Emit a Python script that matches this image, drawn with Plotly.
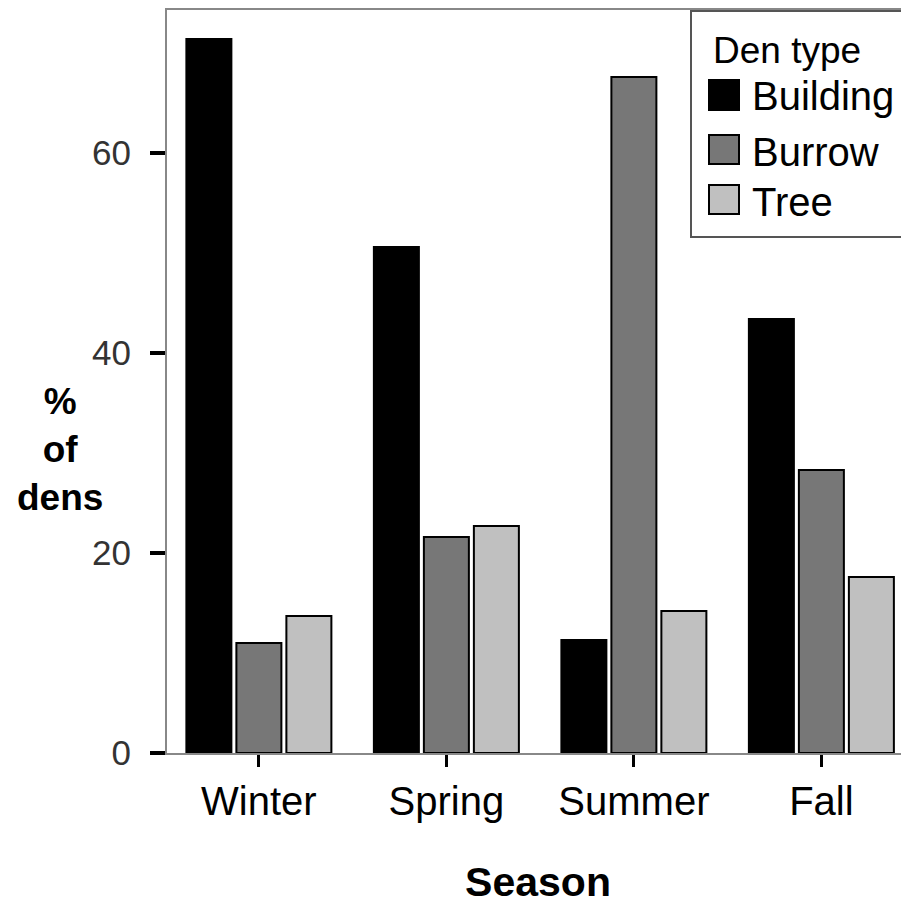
import plotly.graph_objects as go

seasons = ["Winter", "Spring", "Summer", "Fall"]
den_types = ["Building", "Burrow", "Tree"]
building = [71.4, 50.6, 11.3, 43.4]
burrow = [11.0, 21.6, 67.6, 28.3]
tree = [13.7, 22.7, 14.2, 17.6]
colors = ["#000000", "#777777", "#c0c0c0"]
y_ticks = [0, 20, 40, 60]

OFF = 8  # page body margin
W, H = 909 - OFF, 907 - OFF
L, R, T, B = 167 - OFF, 0, 10 - OFF, 907 - OFF - (753 - OFF)
PW, PH = W - L - R, H - T - B

def px(x):
    return (x - OFF - L) / PW

def py(y):
    return (H - B - (y - OFF)) / PH

x_end = -0.49 + PW / 187.5

fig = go.Figure()
for name, vals, col in zip(den_types, [building, burrow, tree], colors):
    fig.add_trace(go.Bar(x=seasons, y=vals, name=name, marker_color=col,
                         marker_line=dict(color="black", width=2), showlegend=False))

fig.update_layout(
    width=W, height=H, margin=dict(l=L, r=R, t=T, b=B),
    paper_bgcolor="white", plot_bgcolor="white",
    barmode="group", bargap=0.2, bargroupgap=0.1,
    font=dict(family="Liberation Sans, Arial, sans-serif", color="black"),
    xaxis=dict(range=[-0.49, x_end], showline=True, linecolor="#888888", linewidth=2,
               mirror=True, ticks="outside", ticklen=12, tickwidth=3, tickcolor="black",
               tickfont=dict(size=40, color="black"), showgrid=False,
               title=dict(text="<b>Season</b>", font=dict(size=41), standoff=45)),
    yaxis=dict(range=[0, 74.3], showline=True, linecolor="#888888", linewidth=2,
               ticks="outside", ticklen=15, tickwidth=4, tickcolor="black",
               tickvals=y_ticks, tickfont=dict(size=35, color="#333333"),
               showgrid=False, zeroline=False, ticklabelstandoff=12),
)

fig.add_annotation(xref="paper", yref="paper", x=px(60), y=py(450),
                   xanchor="center", yanchor="middle",
                   text="<b>%<br>of<br>dens</b>", showarrow=False, align="center",
                   font=dict(size=37, color="black"))

# legend box
fig.add_shape(type="rect", xref="paper", yref="paper", x0=px(691), x1=px(940),
              y0=py(237), y1=py(11), line=dict(color="#555555", width=2),
              fillcolor="white", layer="above")
fig.add_annotation(xref="paper", yref="paper", x=px(711), y=py(50),
                   xanchor="left", yanchor="middle",
                   text="Den type", showarrow=False, font=dict(size=37, color="black"))
sq = [(80, 110), (135, 164), (185, 214)]
txt_y = [96, 152, 202]
for (y0, y1), ty, name, col in zip(sq, txt_y, den_types, colors):
    fig.add_shape(type="rect", xref="paper", yref="paper", x0=px(709), x1=px(739),
                  y0=py(y1), y1=py(y0), fillcolor=col, line=dict(color="black", width=2),
                  layer="above")
    fig.add_annotation(xref="paper", yref="paper", x=px(750), y=py(ty),
                       xanchor="left", yanchor="middle", text=name, showarrow=False,
                       font=dict(size=40, color="black"))

fig.write_html("out.html")
